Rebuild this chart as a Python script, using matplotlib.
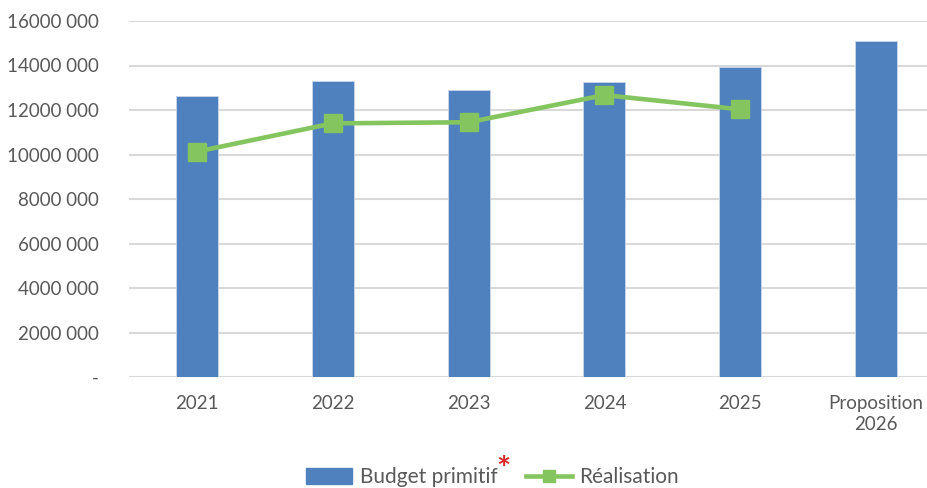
import matplotlib
matplotlib.use("Agg")
import matplotlib.pyplot as plt
from matplotlib.patches import Patch
from matplotlib.lines import Line2D

categories = ["2021", "2022", "2023", "2024", "2025", "Proposition\n2026"]
budget_primitif = [12640000, 13290000, 12890000, 13250000, 13930000, 15110000]
realisation = [10130000, 11400000, 11450000, 12670000, 12030000]
ytick_values = [0, 2000000, 4000000, 6000000, 8000000, 10000000, 12000000, 14000000, 16000000]
ytick_labels = ["-", "2000 000", "4000 000", "6000 000", "8000 000",
                "10000 000", "12000 000", "14000 000", "16000 000"]

plt.rcParams['font.family'] = ['Lato', 'DejaVu Sans']
text_color = "#595959"
bar_color = "#4E81BD"
line_color = "#84C55F"

fig = plt.figure(figsize=(9.28, 4.88), dpi=100)
ax = fig.add_axes([129/928, 1 - 377/488, 815/928, 356/488])

x = list(range(len(categories)))
ax.bar(x, budget_primitif, width=0.31, color=bar_color, edgecolor="#C9D7EC",
       linewidth=0.6, zorder=2)
ax.plot(x[:len(realisation)], realisation, color=line_color, linewidth=3.3,
        marker="s", markersize=13, markeredgecolor=line_color, zorder=3)

ax.set_xlim(-0.5, len(categories) - 0.5)
ax.set_ylim(0, 16000000)
ax.set_yticks(ytick_values)
ax.set_yticklabels(ytick_labels)
ax.set_xticks(x)
ax.set_xticklabels(categories, linespacing=1.3)
ax.tick_params(axis="y", length=0, pad=22, labelsize=13.5, labelcolor=text_color)
ax.tick_params(axis="x", length=0, pad=13, labelsize=13.5, labelcolor=text_color)
ax.grid(axis="y", color="#D9D9D9", linewidth=1.5, zorder=0)
ax.set_axisbelow(True)
for s in ax.spines.values():
    s.set_visible(False)

handles = [Patch(facecolor=bar_color, edgecolor=bar_color),
           Line2D([0], [0], color=line_color, linewidth=3.3, marker="s",
                  markersize=9, markeredgecolor=line_color)]
leg = fig.legend(handles, ["Budget primitif", "Réalisation"], loc="center",
                 bbox_to_anchor=(0.531, 0.022), ncol=2, frameon=False,
                 fontsize=15, handlelength=2.2, handleheight=0.75,
                 columnspacing=1.4, handletextpad=0.35)
for t in leg.get_texts():
    t.set_color(text_color)

fig.text(503/928, 1 - 471/488, "*", color="#D9262B", fontsize=24,
         fontweight="bold", ha="center", va="center")

fig.savefig("out.png", dpi=100)
